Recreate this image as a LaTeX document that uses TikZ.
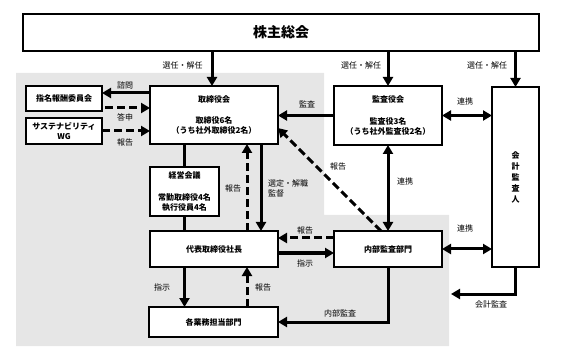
\documentclass[tikz,border=0pt]{standalone}
\usepackage{fontspec}
\setmainfont{Noto Sans CJK JP}
\usetikzlibrary{arrows.meta,calc}
\definecolor{bggray}{RGB}{230,230,230}
\begin{document}
\begin{tikzpicture}[x=1pt,y=-1pt,
  box/.style={draw,line width=1.5pt,fill=white,inner sep=0pt,outer sep=0pt,align=center,font=\bfseries\fontsize{8}{10}\selectfont},
  arr/.style={line width=3pt,-{Triangle[length=9pt,width=10pt]}},
  darr/.style={arr,dash pattern=on 8pt off 4pt},
  dbl/.style={line width=3pt,{Triangle[length=9pt,width=10pt]}-{Triangle[length=9pt,width=10pt]}},
  plainline/.style={line width=3pt},
  lab/.style={font=\fontsize{8}{10}\selectfont,inner sep=0pt,align=left}]
\useasboundingbox (0,0) rectangle (567,363);
\fill[bggray] (16,73) -- (324,73) -- (324,215) -- (449,215) -- (449,346) -- (16,346) -- cycle;

% boxes
\node[box,minimum width=516pt,minimum height=37pt,font=\bfseries\fontsize{14}{16}\selectfont] (sh) at (281,32.5) {株主総会};
\node[box,minimum width=128pt,minimum height=58pt] (tb) at (214,115) {取締役会\\[11pt]取締役6名\\（うち社外取締役2名）};
\node[box,minimum width=76pt,minimum height=25pt] (nom) at (64,98.5) {指名報酬委員会};
\node[box,minimum width=76pt,minimum height=26pt] (sus) at (64,131) {サステナビリティ\\WG};
\node[box,minimum width=69pt,minimum height=49pt] (kei) at (184.5,191.5) {経営会議\\[12pt]常勤取締役4名\\執行役員4名};
\node[box,minimum width=128pt,minimum height=36pt] (ceo) at (214,249) {代表取締役社長};
\node[box,minimum width=129pt,minimum height=30pt] (gyo) at (213.5,322) {各業務担当部門};
\node[box,minimum width=108pt,minimum height=59pt] (kan) at (388,115.5) {監査役会\\[12pt]監査役3名\\（うち社外監査役2名）};
\node[box,minimum width=47pt,minimum height=180pt,font=\bfseries\fontsize{8}{11}\selectfont] (kai) at (515.5,177) {会\\計\\監\\査\\人};
\node[box,minimum width=108pt,minimum height=36pt] (nai) at (388,249) {内部監査部門};
\coordinate (kaend) at (451,294);

% connectors from shareholders
\draw[arr] ([xshift=-2pt]tb.north |- sh.south) -- ([xshift=-2pt]tb.north);
\draw[arr] (kan.north |- sh.south) -- (kan.north);
\draw[arr] (kai.north |- sh.south) -- (kai.north);

% left committees
\draw[arr] ([yshift=5.5pt]nom.east -| tb.west) -- ([yshift=5.5pt]nom.east);
\draw[darr] ([xshift=3pt,yshift=-9.5pt]nom.east) -- ([yshift=-9.5pt]nom.east -| tb.west);
\draw[darr] (sus.east) -- (sus.east -| tb.west);

% board - management
\draw[plainline] (kei.north |- tb.south) -- (kei.north);
\draw[plainline] (kei.south) -- (kei.south |- ceo.north);
\draw[darr] ([xshift=33pt]ceo.north) -- ([xshift=33pt]ceo.north |- tb.south);
\draw[arr] ([xshift=47pt]tb.south) -- ([xshift=47pt]tb.south |- ceo.north);

% audit board
\draw[arr] (kan.west) -- (kan.west -| tb.east);
\draw[dbl] (kan.east) -- (kan.east -| kai.west);
\draw[dbl] (kan.south) -- (nai.north);
\draw[darr] ([xshift=-7pt]nai.north) -- ([yshift=-13pt]tb.east);

% internal audit
\draw[darr] ([yshift=11pt]nai.west) -- ([yshift=11pt]nai.west -| ceo.east);
\draw[arr] ([yshift=-4pt]ceo.east) -- ([yshift=-4pt]ceo.east -| nai.west);
\draw[dbl] (nai.east) -- (nai.east -| kai.west);
\draw[arr] (kai.south) |- (kaend);
\draw[arr] (nai.south) |- (gyo.east);

% president - departments
\draw[arr] (ceo.south -| kei.south) -- (gyo.north -| kei.south);
\draw[darr] ([xshift=33pt]ceo.south |- gyo.north) -- ([xshift=33pt]ceo.south);

% labels
\node[lab] (l1) at (182.5,65) {選任・解任};
\node[lab] (l2) at (361,65) {選任・解任};
\node[lab] (l3) at (487,65) {選任・解任};
\node[lab] (l4) at (125,85) {諮問};
\node[lab] (l5) at (125,117) {答申};
\node[lab] (l6) at (125,142) {報告};
\node[lab] (l7) at (307,104) {監査};
\node[lab] (l8) at (465,101) {連携};
\node[lab] (l9) at (233,188) {報告};
\node[lab,anchor=west] (l10) at (268,188.5) {選定・解職\\監督};
\node[lab] (l11) at (338,166) {報告};
\node[lab] (l12) at (405,181) {連携};
\node[lab] (l13) at (305,230) {報告};
\node[lab] (l14) at (305,263) {指示};
\node[lab] (l15) at (465,228) {連携};
\node[lab] (l16) at (162,287) {指示};
\node[lab] (l17) at (263,287) {報告};
\node[lab] (l18) at (340,313) {内部監査};
\node[lab] (l19) at (491,304) {会計監査};
\end{tikzpicture}
\end{document}
